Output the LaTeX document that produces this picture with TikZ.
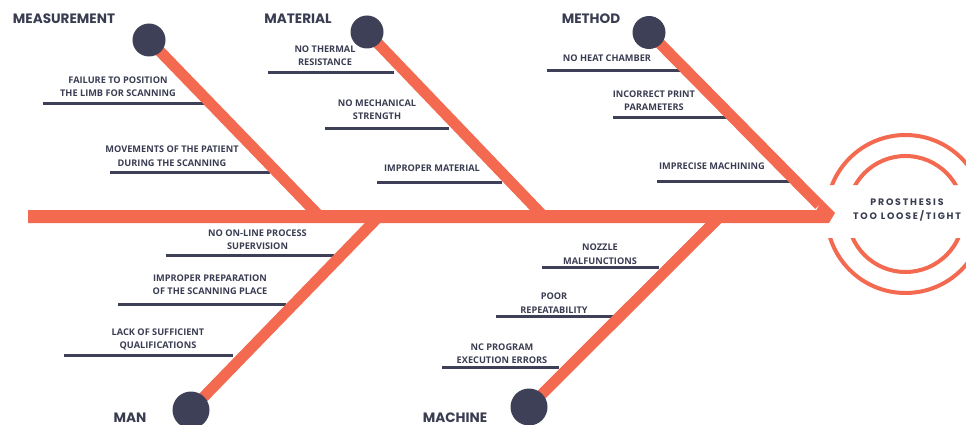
\documentclass[tikz,border=0pt]{standalone}
\usepackage{fontspec}
\setmainfont{Open Sans}
\newfontfamily\titlefont{Poppins}
\definecolor{fishorange}{RGB}{243,106,80}
\definecolor{navy}{RGB}{62,64,88}
\definecolor{txt}{RGB}{58,61,82}
\pgfdeclarelayer{bg}
\pgfsetlayers{bg,main}
\begin{document}
\begin{tikzpicture}[x=1pt,y=-1pt,
  bone/.style={line width=11pt, draw=fishorange, line cap=butt},
  headsmall/.style={circle, fill=navy, inner sep=0pt, minimum size=33pt},
  headbig/.style={circle, fill=navy, inner sep=0pt, minimum size=37pt},
  cause/.style={font=\fontsize{9.2}{13.5}\selectfont\bfseries, text=txt, align=center, inner sep=0pt},
  cat/.style={font=\titlefont\fontsize{13.6}{15}\selectfont\bfseries, text=txt, inner sep=0pt},
  effect/.style={font=\titlefont\fontsize{9.4}{14}\selectfont\bfseries\addfontfeature{LetterSpace=19}, text=txt, align=center, inner sep=0pt},
  uline/.style={draw=navy, line width=3pt},
  ring/.style={draw=fishorange, line width=4pt},
]
\useasboundingbox (0,0) rectangle (966,425);

% heads
\node[headsmall] (hMeas) at (149,40) {};
\node[headsmall] (hMat)  at (367,32) {};
\node[headsmall] (hMeth) at (649,32.5) {};
\node[headbig]   (hMan)  at (191,410) {};
\node[headbig]   (hMach) at (529,407) {};

% bone ends on the spine
\coordinate (eMeas) at (319.8,216.5);
\coordinate (eMat)  at (543.7,216.5);
\coordinate (eMeth) at (819.2,205);
\coordinate (eMan)  at (378.8,216.5);
\coordinate (eMach) at (720,216.5);
\coordinate (tail)  at (28,216.5);
\coordinate (tip)   at (835,213);

% category titles
\node[cat] (tMeas) at (64,19)  {MEASUREMENT};
\node[cat] (tMat)  at (298,19) {MATERIAL};
\node[cat] (tMeth) at (591,19) {METHOD};
\node[cat] (tMan)  at (130,417.5) {MAN};
\node[cat] (tMach) at (455,417.5) {MACHINE};

% causes
\node[cause] (c1)  at (118,86.5)  {FAILURE TO POSITION\\THE LIMB FOR SCANNING};
\node[cause] (c2)  at (172,156)   {MOVEMENTS OF THE PATIENT\\DURING THE SCANNING};
\node[cause] (c3)  at (325,55.5)  {NO THERMAL\\RESISTANCE};
\node[cause] (c4)  at (377,109.5) {NO MECHANICAL\\STRENGTH};
\node[cause] (c5)  at (432,168)   {IMPROPER MATERIAL};
\node[cause] (c6)  at (607,58)    {NO HEAT CHAMBER};
\node[cause] (c7)  at (654,100.5) {INCORRECT PRINT\\PARAMETERS};
\node[cause] (c8)  at (712,166)   {IMPRECISE MACHINING};
\node[cause] (c9)  at (257.5,239.5) {NO ON-LINE PROCESS\\SUPERVISION};
\node[cause] (c10) at (210,284.5) {IMPROPER PREPARATION\\OF THE SCANNING PLACE};
\node[cause] (c11) at (158,339.5) {LACK OF SUFFICIENT\\QUALIFICATIONS};
\node[cause] (c12) at (600,254)   {NOZZLE\\MALFUNCTIONS};
\node[cause] (c13) at (554,303)   {POOR\\REPEATABILITY};
\node[cause] (c14) at (502,353.5) {NC PROGRAM\\EXECUTION ERRORS};

% effect
\node[effect] (eff) at (907,210) {PROSTHESIS\\TOO LOOSE/TIGHT};

% underline end points
\coordinate (u1a) at (43,104);   \coordinate (u1b) at (204,104);
\coordinate (u2a) at (110,172);  \coordinate (u2b) at (270,172);
\coordinate (u3a) at (268,73);   \coordinate (u3b) at (394,73);
\coordinate (u4a) at (325,129);  \coordinate (u4b) at (449,129);
\coordinate (u5a) at (377,182);  \coordinate (u5b) at (502,182);
\coordinate (u6a) at (547,71);   \coordinate (u6b) at (682,71);
\coordinate (u7a) at (613,118);  \coordinate (u7b) at (728,118);
\coordinate (u8a) at (657,181);  \coordinate (u8b) at (790,181);
\coordinate (u9a) at (166,255);  \coordinate (u9b) at (334,255);
\coordinate (u10a) at (118,304); \coordinate (u10b) at (286,304);
\coordinate (u11a) at (64,355);  \coordinate (u11b) at (233,355);
\coordinate (u12a) at (542,267.7); \coordinate (u12b) at (659,267.7);
\coordinate (u13a) at (496,316); \coordinate (u13b) at (613,316);
\coordinate (u14a) at (442,367.3); \coordinate (u14b) at (559,367.3);

\begin{pgfonlayer}{bg}
  \foreach \u in {1,...,14} {\draw[uline] (u\u a) -- (u\u b);}
  \draw[bone] (hMeas.center) -- (eMeas);
  \draw[bone] (hMat.center)  -- (eMat);
  \draw[bone] (hMeth.center) -- (eMeth);
  \draw[bone] (hMan.center)  -- (eMan);
  \draw[bone] (hMach.center) -- (eMach);
  \fill[fishorange] (28,210) -- (816.4,210) -- (822,200) -- (tip) -- (829,223) -- (28,223) -- cycle;
\end{pgfonlayer}

% rings around the effect
\begin{scope}
  \clip (815,120) rectangle (966,185) (815,238) rectangle (966,310);
  \draw[ring] (905.5,214) circle[radius=79pt];
  \draw[ring] (905.5,214) circle[radius=58pt];
\end{scope}
\end{tikzpicture}
\end{document}
